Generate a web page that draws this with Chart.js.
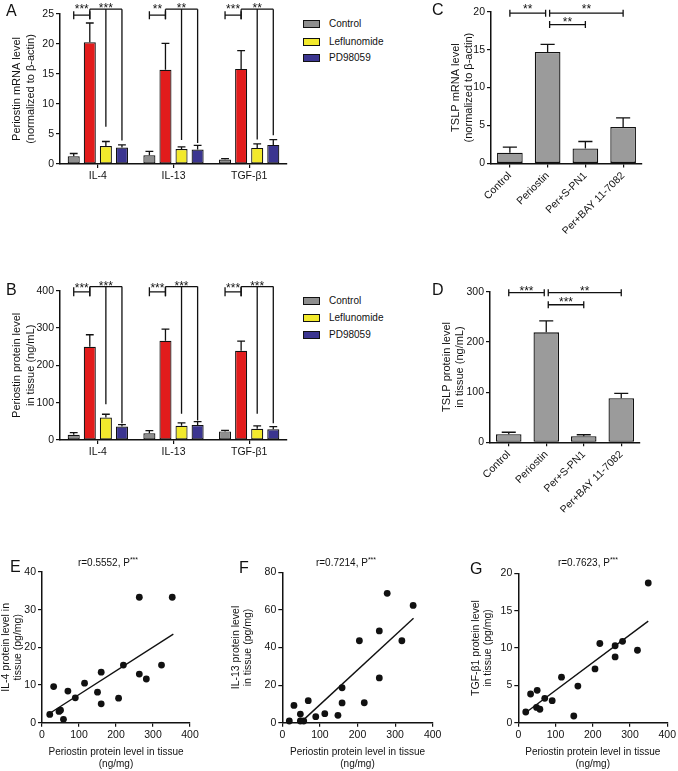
<!DOCTYPE html>
<html><head><meta charset="utf-8">
<script src="https://cdn.jsdelivr.net/npm/chart.js@4.4.1/dist/chart.umd.min.js"></script>
<style>
body{margin:0;background:#fff;width:678px;height:771px;position:relative;overflow:hidden;font-family:"Liberation Sans",Arial,sans-serif;color:#111}
canvas{position:absolute}
.lbl{position:absolute;font-size:16px;line-height:16px}
.row{position:absolute;font-size:10px;line-height:10px;white-space:nowrap;display:flex;align-items:center}
.sw{display:inline-block;width:15px;height:6px;border:1px solid #111;margin-right:9px}
.ttl{position:absolute;font-size:10px;line-height:12px;transform:translateX(-50%);white-space:nowrap}
.ttl sup{font-size:7px;vertical-align:4px;line-height:0}
</style></head><body>
<canvas id="cA" width="300" height="195" style="left:0px;top:0px"></canvas>
<canvas id="cB" width="300" height="195" style="left:0px;top:270px"></canvas>
<canvas id="cC" width="248" height="240" style="left:430px;top:0px"></canvas>
<canvas id="cD" width="248" height="265" style="left:430px;top:270px"></canvas>
<canvas id="cE" width="225" height="221" style="left:0px;top:550px"></canvas>
<canvas id="cF" width="225" height="221" style="left:225px;top:550px"></canvas>
<canvas id="cG" width="228" height="221" style="left:450px;top:550px"></canvas>

<div class="lbl" style="left:6px;top:3px">A</div>
<div class="lbl" style="left:6px;top:282px">B</div>
<div class="lbl" style="left:432px;top:2px">C</div>
<div class="lbl" style="left:432px;top:282px">D</div>
<div class="lbl" style="left:10px;top:559px">E</div>
<div class="lbl" style="left:239px;top:560px">F</div>
<div class="lbl" style="left:470px;top:561px">G</div>

<div id="legA"></div>
<div id="legB"></div>

<div class="ttl" style="left:108px;top:557px">r=0.5552, P<sup>***</sup></div>
<div class="ttl" style="left:346px;top:557px">r=0.7214, P<sup>***</sup></div>
<div class="ttl" style="left:588px;top:557px">r=0.7623, P<sup>***</sup></div>

<script>
// ---------- DATA ----------
const abCategories = ['IL-4', 'IL-13', 'TGF-β1'];
const abSeries = ['Control', 'Periostin', 'Leflunomide', 'PD98059'];
const legendSeries = ['Control', 'Leflunomide', 'PD98059'];

// Panel A: Periostin mRNA level (mean, SEM)
const aControl = [1.3, 1.45, 0.73];
const aPeriostin = [20.3, 15.7, 15.85];
const aLeflunomide = [3.0, 2.5, 2.68];
const aPD98059 = [2.73, 2.4, 3.18];
const aControlSem = [0.45, 0.65, 0.17];
const aPeriostinSem = [3.2, 4.4, 3.05];
const aLeflunomideSem = [0.75, 0.35, 0.67];
const aPD98059Sem = [0.47, 0.7, 0.87];
const aStarsLeft = ['***', '**', '***'];
const aStarsRight = ['***', '**', '**'];
const aDropLeflunomide = [6.2, 4.0, 4.1];
const aDropPD98059 = [3.9, 3.5, 4.8];

// Panel B: Periostin protein level in tissue (mean, SEM)
const bControl = [14, 18, 23];
const bPeriostin = [250, 266, 239];
const bLeflunomide = [60, 38, 30];
const bPD98059 = [36, 40, 29];
const bControlSem = [6, 7, 3];
const bPeriostinSem = [32, 31, 26];
const bLeflunomideSem = [9, 8, 8];
const bPD98059Sem = [5, 9, 7];
const bStarsLeft = ['***', '***', '***'];
const bStarsRight = ['***', '***', '***'];
const bDropLeflunomide = [96, 70, 70];
const bDropPD98059 = [45, 52, 45];

// Panels C, D
const cdCategories = ['Control', 'Periostin', 'Per+S-PN1', 'Per+BAY 11-7082'];
const cMean = [1.41, 14.7, 1.98, 4.8];
const cSem = [0.74, 1.0, 0.92, 1.2];
const cStars = ['**', '**', '**'];
const dMean = [16, 219, 12, 87.6];
const dSem = [4, 23, 3, 10];
const dStars = ['***', '**', '***'];

// Panels E, F, G (periostin x, cytokine y)
const eX = [21, 31.5, 46, 50, 58, 70, 90, 115, 150, 160, 160, 207, 220, 263, 263, 282, 323, 352];
const eY = [2.2, 9.6, 3.0, 3.3, 0.9, 8.4, 6.6, 10.5, 8.1, 13.4, 5.0, 6.5, 15.3, 33.3, 12.9, 11.6, 15.3, 33.3];
const eFitX = [18, 355];
const eFitY = [2.3, 23.5];

const fX = [18.6, 31, 48, 48, 57, 69, 89, 113, 148, 159, 159, 205, 218, 258, 258, 279, 318, 348];
const fY = [0.9, 9.2, 4.6, 0.9, 0.9, 11.7, 3.2, 4.8, 3.9, 18.6, 10.5, 43.6, 10.6, 48.8, 23.8, 68.8, 43.6, 62.4];
const fFitX = [52, 349];
const fFitY = [0.7, 55.5];

const gX = [20, 33, 49, 50.7, 58, 71, 91, 116, 149, 160, 206, 219, 260, 260, 280, 320, 349];
const gY = [1.43, 3.84, 2.05, 4.33, 1.8, 3.26, 2.95, 6.1, 0.9, 4.9, 7.2, 10.6, 10.3, 8.8, 10.9, 9.7, 18.7];
const gFitX = [16, 349];
const gFitY = [1.2, 13.6];

// ---------- STYLE ----------
const FONT = "'Liberation Sans', Arial, sans-serif";
const INK = '#111';
const abColors = ['#8e8e8e', '#e21c1c', '#f2e92c', '#3b3590'];
const cdColor = '#9b9b9b';

const annot = {
  id: 'annot',
  afterDatasetsDraw(chart, args, opts) {
    const ctx = chart.ctx, ys = chart.scales.y;
    ctx.save();
    ctx.strokeStyle = INK; ctx.fillStyle = INK; ctx.lineWidth = 1.3; ctx.lineCap = 'butt';
    (opts.errors || []).forEach((sem, di) => {
      const meta = chart.getDatasetMeta(di);
      meta.data.forEach((el, i) => {
        const v = chart.data.datasets[di].data[i];
        const yt = ys.getPixelForValue(v + sem[i]);
        const w = el.width * (opts.cap || 0.6);
        ctx.beginPath();
        ctx.moveTo(el.x, el.y); ctx.lineTo(el.x, yt);
        ctx.moveTo(el.x - w / 2, yt); ctx.lineTo(el.x + w / 2, yt);
        ctx.stroke();
      });
    });
    (opts.brackets || []).forEach(b => {
      const x1 = chart.getDatasetMeta(b.a[0]).data[b.a[1]].x + (b.da || 0);
      const x2 = chart.getDatasetMeta(b.b[0]).data[b.b[1]].x + (b.db || 0);
      const y = ys.getPixelForValue(b.v);
      ctx.beginPath();
      ctx.moveTo(x1, y); ctx.lineTo(x2, y);
      if (b.tick) {
        ctx.moveTo(x1, y - b.tick); ctx.lineTo(x1, y + b.tick);
        ctx.moveTo(x2, y - b.tick); ctx.lineTo(x2, y + b.tick);
      }
      (b.drops || []).forEach(d => {
        const x = chart.getDatasetMeta(d[0]).data[d[1]].x;
        ctx.moveTo(x, y); ctx.lineTo(x, ys.getPixelForValue(d[2]));
      });
      ctx.stroke();
      if (b.text) {
        const fs = 12;
        ctx.font = fs + 'px ' + FONT;
        ctx.textAlign = 'center'; ctx.textBaseline = 'alphabetic';
        ctx.fillText(b.text, (x1 + x2) / 2, y + b.ty + 0.57 * fs);
      }
    });
    ctx.restore();
  }
};

function pad(cv, plot, W, H) {
  return { left: plot.x1 - cv.x - W, top: plot.y1 - cv.y, right: cv.x + cv.w - plot.x2, bottom: cv.y + cv.h - plot.y2 - H };
}
function gridCfg(extra) {
  return Object.assign({ display: true, drawOnChartArea: false, drawTicks: true, tickLength: 4, color: INK, lineWidth: 1.2 }, extra || {});
}
const borderCfg = { display: true, color: INK, width: 1.5 };
function yCfg(min, max, step, title, W, lh, fsTick, fsTitle) {
  return {
    min, max,
    ticks: { stepSize: step, color: INK, font: { size: fsTick, family: FONT }, padding: 2 },
    grid: gridCfg(), border: borderCfg,
    title: { display: true, text: title, color: INK, font: { size: fsTitle, family: FONT, lineHeight: lh }, padding: 0 },
    afterFit: s => { s.width = W; }
  };
}
function xCatCfg(H, rot) {
  return {
    ticks: { color: INK, font: { size: 10.5, family: FONT }, padding: 2, autoSkip: false, minRotation: rot, maxRotation: rot },
    grid: gridCfg({ offset: false }), border: borderCfg,
    afterFit: s => { s.height = H; }
  };
}
function baseOpts(padding, scales, plugins) {
  return {
    responsive: false, animation: false, devicePixelRatio: 1,
    layout: { padding },
    scales,
    plugins: Object.assign({ legend: { display: false }, tooltip: { enabled: false } }, plugins)
  };
}

function groupBrackets(starsL, starsR, dropY, dropB, v1, v2, tick, t1, t2, drop1) {
  const out = [];
  abCategories.forEach((c, i) => {
    out.push({ a: [0, i], b: [1, i], v: v1, tick, text: starsL[i], ty: t1 });
    out.push({ a: [1, i], b: [3, i], v: v2, text: starsR[i], ty: t2,
      drops: [[1, i, drop1], [2, i, dropY[i]], [3, i, dropB[i]]] });
  });
  return out;
}

function groupedBar(id, cv, plot, W, H, series, sems, yMin, yMax, step, title, brackets) {
  new Chart(document.getElementById(id), {
    type: 'bar',
    data: {
      labels: abCategories,
      datasets: series.map((d, k) => ({
        label: abSeries[k], data: d, backgroundColor: abColors[k], borderColor: INK,
        borderWidth: 1.2, borderSkipped: false, categoryPercentage: 0.85, barPercentage: 0.75
      }))
    },
    options: baseOpts(pad(cv, plot, W, H), {
      x: xCatCfg(H, 0),
      y: yCfg(yMin, yMax, step, title, W, 1.25, 10.5, 11)
    }, { annot: { errors: sems, cap: 0.65, brackets } }),
    plugins: [annot]
  });
}

groupedBar('cA', { x: 0, y: 0, w: 300, h: 195 }, { x1: 60, y1: 14, x2: 287, y2: 164 }, 50, 22,
  [aControl, aPeriostin, aLeflunomide, aPD98059],
  [aControlSem, aPeriostinSem, aLeflunomideSem, aPD98059Sem],
  0, 25, 5, ['Periostin mRNA level', '(normalized to β-actin)'],
  groupBrackets(aStarsLeft, aStarsRight, aDropLeflunomide, aDropPD98059, 24.8, 25.8, 4, -8.6, -4.5, 24.13));

groupedBar('cB', { x: 0, y: 270, w: 300, h: 195 }, { x1: 60, y1: 290.7, x2: 287, y2: 440 }, 50, 22,
  [bControl, bPeriostin, bLeflunomide, bPD98059],
  [bControlSem, bPeriostinSem, bLeflunomideSem, bPD98059Sem],
  0, 400, 100, ['Periostin protein level', 'in tissue (ng/mL)'],
  groupBrackets(bStarsLeft, bStarsRight, bDropLeflunomide, bDropPD98059, 397, 411, 4.5, -6.2, -3.8, 385));

function singleBar(id, cv, plot, W, H, mean, sem, yMax, step, title, brackets) {
  new Chart(document.getElementById(id), {
    type: 'bar',
    data: {
      labels: cdCategories,
      datasets: [{ data: mean, backgroundColor: cdColor, borderColor: INK, borderWidth: 1.3,
        borderSkipped: false, categoryPercentage: 1, barPercentage: 0.68 }]
    },
    options: baseOpts(pad(cv, plot, W, H), {
      x: xCatCfg(H, 45),
      y: yCfg(0, yMax, step, title, W, 1.2, 10.5, 11)
    }, { annot: { errors: [sem], cap: 0.55, brackets } }),
    plugins: [annot]
  });
}

singleBar('cC', { x: 430, y: 0, w: 248, h: 240 }, { x1: 491, y1: 11.7, x2: 642, y2: 163.5 }, 42, 70,
  cMean, cSem, 20, 5, ['TSLP mRNA level', '(normalized to β-actin)'],
  [{ a: [0, 0], b: [0, 1], v: 19.8, tick: 3.5, db: -2, text: cStars[0], ty: -6.6 },
   { a: [0, 1], b: [0, 3], v: 19.8, tick: 3.5, da: 2, text: cStars[1], ty: -6.6 },
   { a: [0, 1], b: [0, 2], v: 18.3, tick: 3.5, da: 2, text: cStars[2], ty: -5.7 }]);

singleBar('cD', { x: 430, y: 270, w: 248, h: 265 }, { x1: 490, y1: 291.7, x2: 640, y2: 442.3 }, 50, 70,
  dMean, dSem, 300, 100, ['TSLP protein level', 'in tissue (ng/mL)'],
  [{ a: [0, 0], b: [0, 1], v: 298, tick: 3.5, db: -2, text: dStars[0], ty: -4.5 },
   { a: [0, 1], b: [0, 3], v: 298, tick: 3.5, da: 2, text: dStars[1], ty: -4.5 },
   { a: [0, 1], b: [0, 2], v: 274, tick: 3.5, da: 2, text: dStars[2], ty: -5.3 }]);

function scatter(id, cv, plot, W, H, xs, ys, fx, fy, yMax, step, title) {
  new Chart(document.getElementById(id), {
    type: 'scatter',
    data: {
      datasets: [
        { data: xs.map((x, i) => ({ x, y: ys[i] })), backgroundColor: '#111', borderWidth: 0, pointRadius: 3.4, clip: false },
        { type: 'line', data: fx.map((x, i) => ({ x, y: fy[i] })), borderColor: '#111', borderWidth: 1.4, pointRadius: 0, fill: false, clip: false }
      ]
    },
    options: baseOpts(pad(cv, plot, W, H), {
      x: {
        type: 'linear', min: 0, max: 400,
        ticks: { stepSize: 100, color: INK, font: { size: 10.5, family: FONT }, padding: 2 },
        grid: gridCfg(), border: borderCfg,
        title: { display: true, text: ['Periostin protein level in tissue', '(ng/mg)'], color: INK, font: { size: 10, family: FONT, lineHeight: 1.2 }, padding: 0 },
        afterFit: s => { s.height = H; }
      },
      y: yCfg(0, yMax, step, title, W, 1.12, 10.5, 10.5)
    }, {})
  });
}

scatter('cE', { x: 0, y: 550, w: 225, h: 221 }, { x1: 42, y1: 572, x2: 190, y2: 722.7 }, 42, 47.3,
  eX, eY, eFitX, eFitY, 40, 10, ['IL-4 protein level in', 'tissue (pg/mg)']);
scatter('cF', { x: 225, y: 550, w: 225, h: 221 }, { x1: 282.3, y1: 572.3, x2: 432.7, y2: 722.7 }, 51.8, 47.3,
  fX, fY, fFitX, fFitY, 80, 20, ['IL-13 protein level', 'in tissue (pg/mg)']);
scatter('cG', { x: 450, y: 550, w: 228, h: 221 }, { x1: 518.3, y1: 573.3, x2: 668.3, y2: 722.7 }, 47.8, 47.3,
  gX, gY, gFitX, gFitY, 20, 5, ['TGF-β1 protein level', 'in tissue (pg/mg)']);

// ---------- LEGENDS ----------
function legend(elId, left, tops) {
  const host = document.getElementById(elId);
  legendSeries.forEach((name, k) => {
    const idx = abSeries.indexOf(name);
    const r = document.createElement('div');
    r.className = 'row';
    r.style.left = left + 'px';
    r.style.top = tops[k] + 'px';
    const sw = document.createElement('span');
    sw.className = 'sw';
    sw.style.background = abColors[idx];
    r.appendChild(sw);
    r.appendChild(document.createTextNode(name));
    host.appendChild(r);
  });
}
legend('legA', 303, [19, 36.7, 53.3]);
legend('legB', 303, [296, 313, 330]);
</script>
</body></html>
